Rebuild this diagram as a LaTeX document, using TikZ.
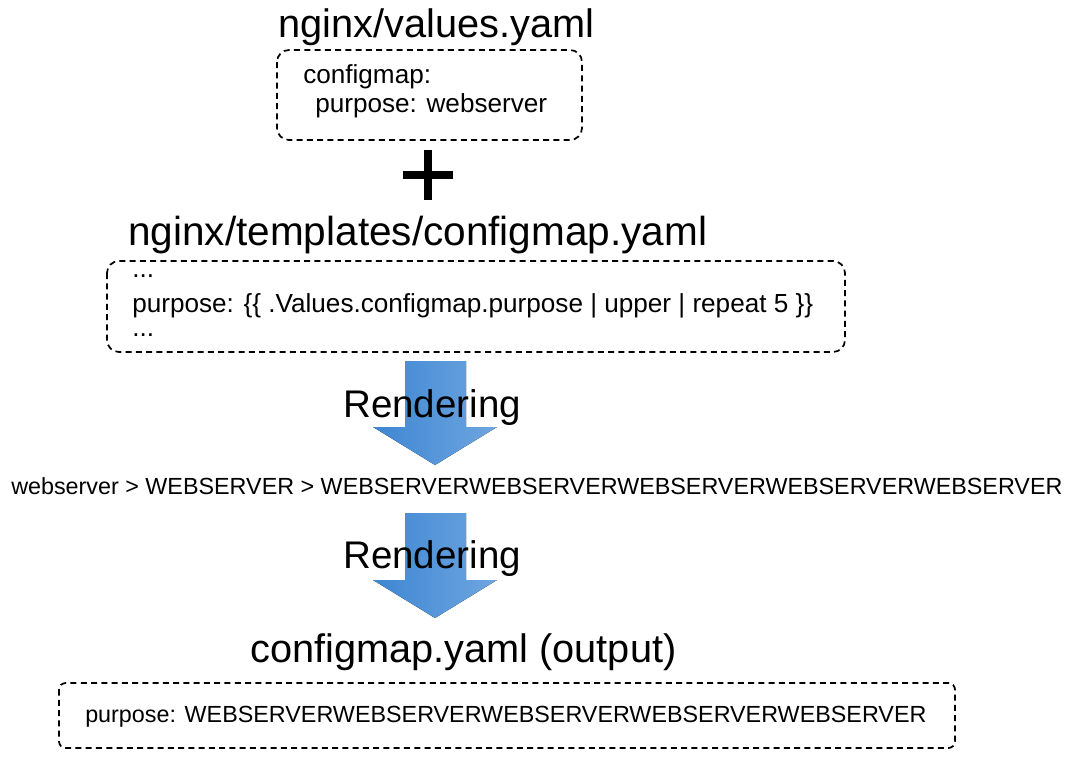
\documentclass[tikz,border=0pt]{standalone}
\usepackage{fontspec}
\setmainfont{Liberation Sans}
\definecolor{arrowleft}{RGB}{62,134,210}
\definecolor{arrowright}{RGB}{110,166,224}

\begin{document}
\begin{tikzpicture}%
	[x=0.75pt,
	y=-0.75pt,
	box/.style={draw=black, line width=1.3pt, dash pattern=on 4.5pt off 3.2pt, rounded corners=9pt},
	title/.style={anchor=base west, inner sep=0pt, font=\fontsize{29.8}{34}\selectfont},
	code/.style={anchor=base west, inner sep=0pt, font=\fontsize{19.6}{23}\selectfont},
	flat/.style={anchor=base west, inner sep=0pt, font=\fontsize{17.5}{21}\selectfont},
	render/.style={anchor=base west, inner sep=0pt, font=\fontsize{28.9}{33}\selectfont},
	plusbar/.style={line width=6pt},
	flow/.style={left color=arrowleft, right color=arrowright, draw=none}]
%
\useasboundingbox (0,0) rectangle (1074,775);
%
%% values file
\node[title] (valuestitle) at (278,37) {nginx/values.yaml};
\draw[box] (277,50) rectangle (582,140);
\node[code] (valuesa) at (303,83) {configmap:};
\node[code] (valuesb) at (315,112) {purpose: webserver};
%
%% plus sign
\draw[plusbar] (403,175) -- (453,175);
\draw[plusbar] (428,150) -- (428,200);
%
%% template file
\node[title, font=\fontsize{30.4}{34}\selectfont] (templatetitle) at (128,245) {nginx/templates/configmap.yaml};
\draw[box] (107,261) rectangle (845,352);
\node[code] (templatea) at (132,277) {...};
\node[code] (templateb) at (132,312) {purpose: \{\{ .Values.configmap.purpose | upper | repeat 5 \}\}};
\node[code] (templatec) at (132,336) {...};
%
%% first rendering step
\fill[flow] (405,361) -- (466,361) -- (466,427) -- (497,427) -- (435,465) -- (373,427) -- (405,427) -- cycle;
\node[render] (rendera) at (343,417) {Rendering};
%
\node[flat] (pipeline) at (11,494) {webserver > WEBSERVER > WEBSERVERWEBSERVERWEBSERVERWEBSERVERWEBSERVER};
%
%% second rendering step
\fill[flow] (405,513) -- (466,513) -- (466,580) -- (497,580) -- (435,618) -- (373,580) -- (405,580) -- cycle;
\node[render] (renderb) at (343,568) {Rendering};
%
%% output file
\node[title] (outputtitle) at (250,662) {configmap.yaml (output)};
\draw[box, rounded corners=5pt] (59,683) rectangle (955,748);
\node[flat] (outputa) at (85,722) {purpose: WEBSERVERWEBSERVERWEBSERVERWEBSERVERWEBSERVER};
%%
\end{tikzpicture}
\end{document}
